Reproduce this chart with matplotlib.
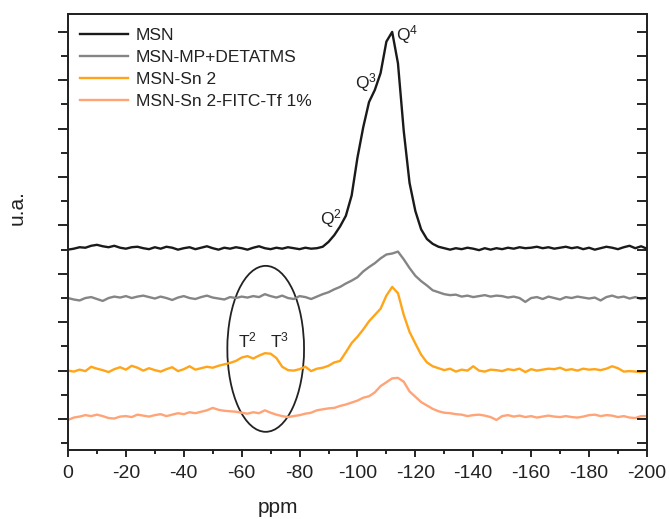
import numpy as np
import matplotlib
matplotlib.use("Agg")
import matplotlib.pyplot as plt
from matplotlib.patches import Ellipse
from matplotlib.ticker import MultipleLocator

plt.rcParams['font.family'] = ['Liberation Sans', 'DejaVu Sans']
plt.rcParams['mathtext.default'] = 'regular'
plt.rcParams['axes.unicode_minus'] = False

# chemical shift axis (ppm), 2 ppm spacing from 0 to -200
ppm = np.arange(0, -201, -2)

labels = ["MSN", "MSN-MP+DETATMS", "MSN-Sn 2", "MSN-Sn 2-FITC-Tf 1%"]
colors = ["#1a1a1a", "#858585", "#FFA51A", "#FFA477"]

# stacked 29Si spectra (intensity incl. vertical offset)
msn = [3.50, 3.52, 3.55, 3.54, 3.58, 3.60, 3.57, 3.55, 3.58, 3.54,
       3.52, 3.55, 3.56, 3.53, 3.51, 3.55, 3.52, 3.56, 3.54, 3.50,
       3.53, 3.55, 3.51, 3.54, 3.57, 3.53, 3.50, 3.54, 3.52, 3.55,
       3.53, 3.50, 3.54, 3.57, 3.53, 3.51, 3.54, 3.52, 3.55, 3.53,
       3.51, 3.54, 3.52, 3.53, 3.56, 3.66, 3.80, 3.98, 4.20, 4.62,
       5.40, 6.03, 6.55, 6.80, 7.15, 7.80, 8.00, 7.35, 5.95, 4.88,
       4.30, 3.92, 3.72, 3.62, 3.56, 3.53, 3.50, 3.53, 3.51, 3.54,
       3.52, 3.49, 3.53, 3.50, 3.53, 3.51, 3.54, 3.52, 3.55, 3.53,
       3.54, 3.56, 3.53, 3.55, 3.52, 3.54, 3.56, 3.53, 3.55, 3.51,
       3.54, 3.50, 3.53, 3.56, 3.54, 3.51, 3.55, 3.58, 3.53, 3.57,
       3.52]

msn_mp = [2.50, 2.47, 2.45, 2.50, 2.52, 2.48, 2.44, 2.50, 2.53, 2.51,
          2.54, 2.50, 2.53, 2.55, 2.52, 2.49, 2.53, 2.50, 2.46, 2.51,
          2.54, 2.50, 2.48, 2.52, 2.55, 2.51, 2.49, 2.47, 2.52, 2.50,
          2.53, 2.51, 2.54, 2.52, 2.58, 2.54, 2.51, 2.55, 2.50, 2.48,
          2.54, 2.52, 2.48, 2.53, 2.58, 2.62, 2.68, 2.73, 2.80, 2.86,
          2.93, 3.05, 3.14, 3.22, 3.32, 3.40, 3.42, 3.46, 3.30, 3.12,
          2.96, 2.85, 2.76, 2.66, 2.62, 2.58, 2.56, 2.57, 2.53, 2.55,
          2.52, 2.54, 2.56, 2.53, 2.55, 2.54, 2.51, 2.53, 2.50, 2.42,
          2.50, 2.52, 2.48, 2.53, 2.50, 2.47, 2.52, 2.50, 2.53, 2.51,
          2.49, 2.51, 2.45, 2.52, 2.55, 2.51, 2.53, 2.49, 2.52, 2.48,
          2.50]

msn_sn2 = [1.00, 0.98, 1.02, 0.99, 1.08, 1.04, 1.01, 0.97, 1.03, 1.07,
           1.02, 1.10, 1.06, 1.00, 1.05, 1.01, 0.98, 1.03, 1.07, 0.99,
           1.03, 1.09, 1.02, 1.05, 1.08, 1.06, 1.10, 1.13, 1.16, 1.20,
           1.27, 1.30, 1.25, 1.31, 1.36, 1.35, 1.26, 1.08, 1.01, 1.00,
           1.03, 1.08, 0.99, 1.04, 1.06, 1.10, 1.17, 1.20, 1.38, 1.57,
           1.70, 1.85, 2.02, 2.15, 2.28, 2.55, 2.73, 2.60, 2.15, 1.80,
           1.56, 1.33, 1.17, 1.09, 1.05, 1.01, 1.04, 0.98, 1.02, 1.00,
           1.09, 1.00, 0.98, 1.02, 1.01, 0.99, 1.03, 1.01, 1.04, 0.97,
           1.03, 1.00, 1.02, 1.04, 1.03, 1.06, 1.01, 1.03, 1.00, 1.04,
           1.02, 1.03, 1.01, 1.04, 1.09, 1.05, 0.98, 0.99, 0.98, 0.97,
           0.99]

msn_sn2_fitc = [-0.02, 0.03, 0.05, 0.08, 0.06, 0.09, 0.06, 0.02, 0.01, 0.05,
                0.06, 0.04, 0.09, 0.07, 0.05, 0.08, 0.10, 0.06, 0.09, 0.12,
                0.10, 0.14, 0.12, 0.15, 0.18, 0.23, 0.19, 0.17, 0.16, 0.15,
                0.13, 0.11, 0.14, 0.12, 0.18, 0.13, 0.09, 0.06, 0.04, 0.06,
                0.08, 0.11, 0.13, 0.18, 0.20, 0.22, 0.23, 0.27, 0.30, 0.34,
                0.38, 0.44, 0.47, 0.55, 0.68, 0.76, 0.84, 0.85, 0.77, 0.57,
                0.46, 0.35, 0.28, 0.21, 0.16, 0.13, 0.12, 0.10, 0.09, 0.06,
                0.08, 0.09, 0.07, 0.04, -0.02, 0.06, 0.08, 0.05, 0.07, 0.04,
                0.06, 0.03, 0.05, 0.07, 0.05, 0.04, 0.06, 0.04, 0.03, 0.05,
                0.08, 0.09, 0.06, 0.08, 0.07, 0.04, 0.06, 0.03, 0.02, 0.06,
                0.06]

series = [msn, msn_mp, msn_sn2, msn_sn2_fitc]

# peak assignments: (text, ppm, intensity)
peak_labels = [("Q$^2$", -91.0, 4.15), ("Q$^3$", -102.8, 6.96),
               ("Q$^4$", -117.0, 7.95), ("T$^2$", -62.0, 1.62),
               ("T$^3$", -73.0, 1.62)]

fig = plt.figure(figsize=(6.7, 5.19), dpi=100)
ax = fig.add_axes([0.1015, 0.133, 0.864, 0.840])

for y, lab, c in zip(series, labels, colors):
    ax.plot(ppm, y, color=c, lw=1.7, label=lab, solid_joinstyle='round')

ax.set_xlim(0, -200)
ax.set_ylim(-0.64, 8.37)

ax.xaxis.set_major_locator(MultipleLocator(20))
ax.xaxis.set_minor_locator(MultipleLocator(10))
ax.yaxis.set_major_locator(MultipleLocator(1))
ax.yaxis.set_minor_locator(MultipleLocator(0.5))
ax.tick_params(axis='x', which='major', direction='out', length=5, width=1.2,
               labelsize=14, pad=6, labelcolor='#222222')
ax.tick_params(axis='x', which='minor', direction='out', length=3, width=1.2)
ax.tick_params(axis='y', which='both', direction='out', length=7, width=1.2,
               left=True, right=False, labelleft=False)
ax.tick_params(axis='y', which='minor', length=5)

# inward ticks on the right-hand spine
ax_r = ax.twinx()
ax_r.set_ylim(ax.get_ylim())
ax_r.yaxis.set_major_locator(MultipleLocator(1))
ax_r.yaxis.set_minor_locator(MultipleLocator(0.5))
ax_r.tick_params(axis='y', which='both', direction='in', length=7, width=1.2,
                 labelright=False)

for a in (ax, ax_r):
    for s in a.spines.values():
        s.set_linewidth(1.3)
        s.set_color('#222222')

ax.set_xlabel("ppm", fontsize=15, color='#222222')
ax.xaxis.set_label_coords(0.363, -0.11)
ax.set_ylabel("u.a.", fontsize=15, color='#222222')
ax.yaxis.set_label_coords(-0.072, 0.555)

for txt, x, y in peak_labels:
    ax.text(x, y, txt, fontsize=12.5, ha='center', va='center', color='#222222')

ax.add_patch(Ellipse((-68.3, 1.45), 26.5, 3.43, fill=False,
                     edgecolor='#222222', lw=1.3))

leg = ax.legend(loc='upper left', frameon=False, fontsize=12.5,
                handlelength=2.75, handletextpad=0.45, labelspacing=0.38,
                borderaxespad=0.3, bbox_to_anchor=(0.0, 0.995))
for t in leg.get_texts():
    t.set_color('#222222')

fig.savefig("out.png", dpi=100)
